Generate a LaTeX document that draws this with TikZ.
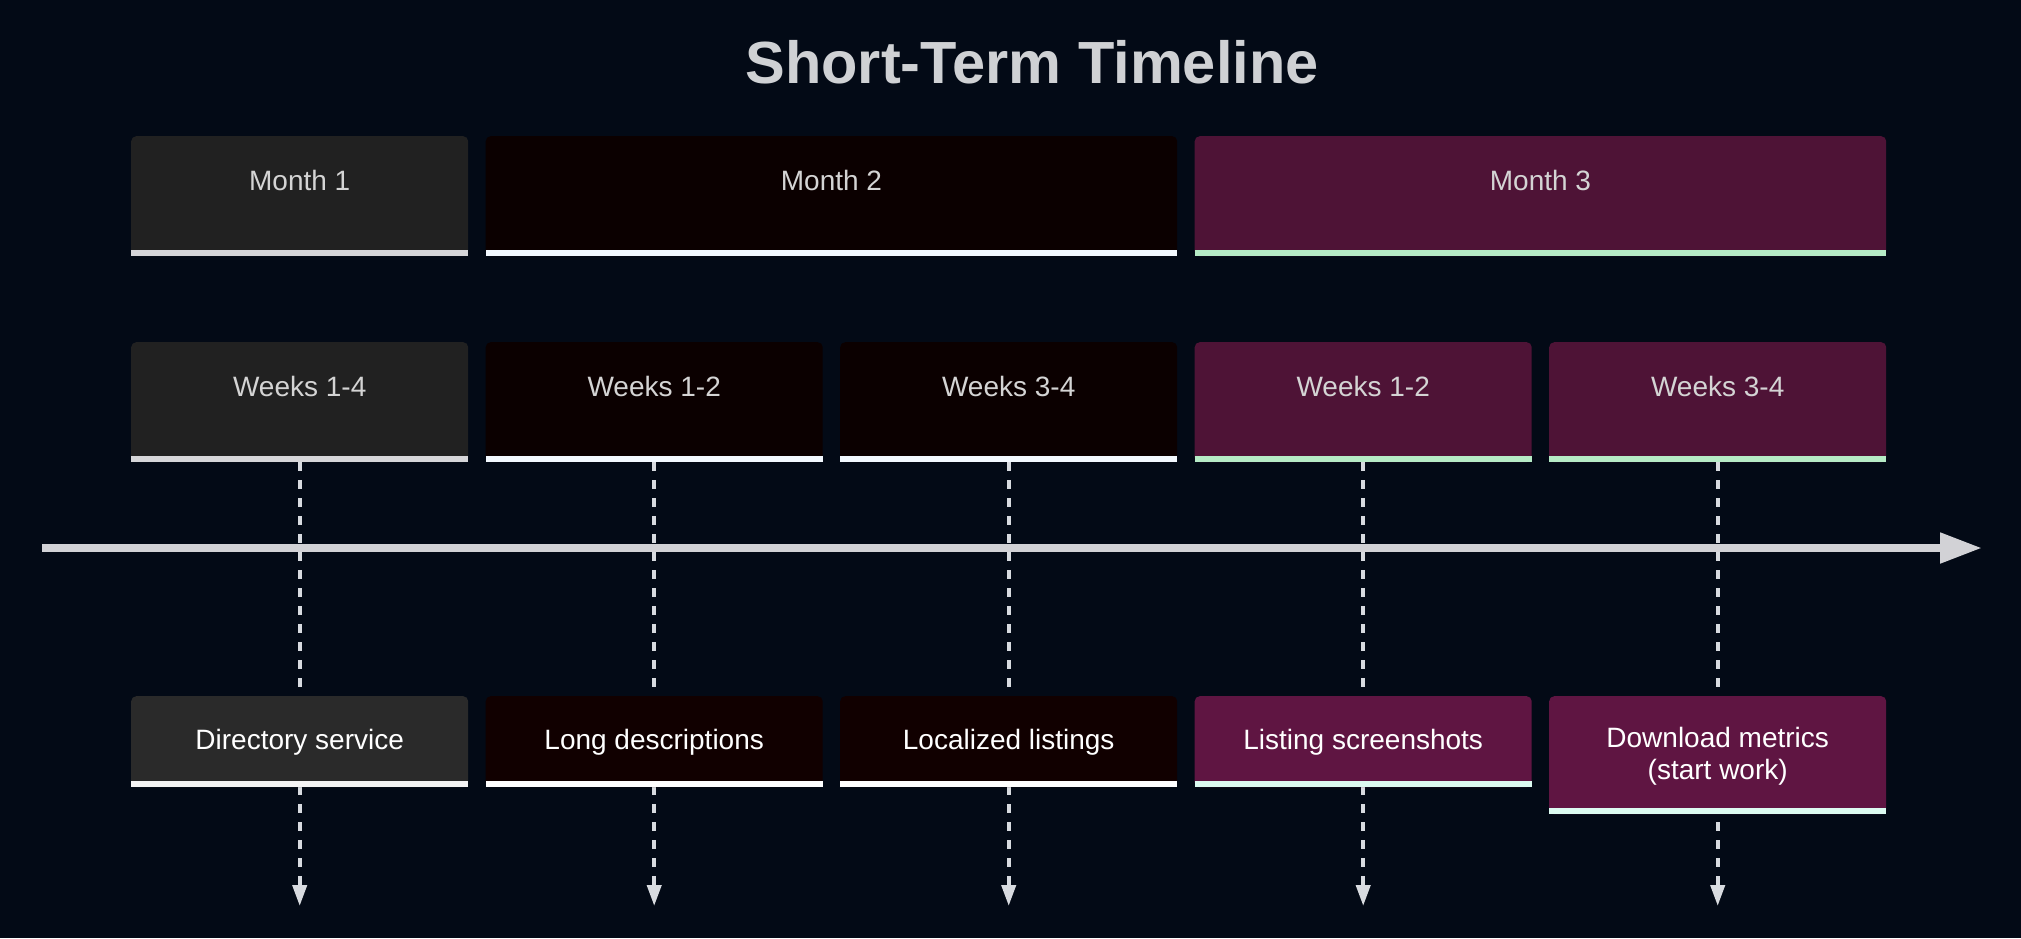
\documentclass[tikz,border=0pt]{standalone}
\usepackage{fontspec}
\setmainfont{Liberation Sans}
\usetikzlibrary{arrows.meta}

\definecolor{bg}{HTML}{030A16}
\definecolor{titlecol}{HTML}{CFD1D4}
\definecolor{hdrtext}{HTML}{D4D4D4}
\definecolor{boxA}{HTML}{212121}
\definecolor{boxB}{HTML}{0B0000}
\definecolor{boxC}{HTML}{4E1336}
\definecolor{lineA}{HTML}{D6D6D9}
\definecolor{lineB}{HTML}{F3F9FF}
\definecolor{lineC}{HTML}{B6EBC6}
\definecolor{evA}{HTML}{2A2A2A}
\definecolor{evB}{HTML}{110000}
\definecolor{evC}{HTML}{5F1542}
\definecolor{evlineA}{HTML}{F4F4F4}
\definecolor{evlineB}{HTML}{FFFFFF}
\definecolor{evlineC}{HTML}{DCFBF1}
\definecolor{tlcol}{HTML}{D2D2D6}
\definecolor{dashcol}{HTML}{D8DBE0}

\newcommand{\evtop}{\rule{0pt}{51pt}}
\newcommand{\evbot}{\rule[-35pt]{0pt}{0pt}}

\tikzset{
  hdr/.style={rectangle, rounded corners=5pt, anchor=north west, inner xsep=0pt, inner ysep=12pt,
    text height=42pt, text depth=54pt, font=\fontsize{28}{32}\selectfont, text=hdrtext},
  evbox/.style={rectangle, rounded corners=5pt, anchor=north, minimum width=337pt, minimum height=91pt,
    inner ysep=0pt, align=center, font=\fontsize{28}{32}\selectfont, text=white},
  timeline/.style={draw=tlcol, line width=8pt, -{Triangle[length=42pt,width=29pt]}},
  dashline/.style={draw=dashcol, line width=4pt, dash pattern=on 9pt off 9pt,
    -{Triangle[length=21pt,width=14pt]}},
}

\begin{document}
\begin{tikzpicture}[x=1pt, y=-1pt]
\fill[bg] (0,0) rectangle (2021,938);
\node[font=\bfseries\fontsize{59.5}{70}\selectfont, text=titlecol, anchor=base] (title) at (1032,83) {Short-Term Timeline};

% months
\node[hdr, fill=boxA, minimum width=337pt] (m1) at (131,136) {Month 1};
\node[hdr, fill=boxB, minimum width=691.5pt] (m2) at (485.5,136) {Month 2};
\node[hdr, fill=boxC, minimum width=691.5pt] (m3) at (1194.5,136) {Month 3};
\foreach \n/\c in {m1/A, m2/B, m3/C}
  \fill[line\c] (\n.south west) rectangle ([yshift=6pt]\n.south east);

% weeks
\foreach \i/\t/\c in {1/Weeks 1-4/A, 2/Weeks 1-2/B, 3/Weeks 3-4/B, 4/Weeks 1-2/C, 5/Weeks 3-4/C} {
  \node[hdr, fill=box\c, minimum width=337pt] (w\i) at ({131+(\i-1)*354.5},342) {\t};
  \fill[line\c] (w\i.south west) rectangle ([yshift=6pt]w\i.south east);
}

% timeline
\coordinate (t0) at (42,548);
\coordinate (t1) at (1982,548);
\draw[timeline] (t0) -- (t1);

\coordinate (bottom) at (0,906);
\coordinate (evtop) at (0,696);
\foreach \i in {1,...,5}
  \draw[dashline] (w\i.south) -- (w\i.south |- bottom);

% events
\foreach \i/\t/\c in {1/Directory service/A, 2/Long descriptions/B, 3/Localized listings/B,
    4/Listing screenshots/C, 5/{Download metrics\\(start work)}/C} {
  \node[evbox, fill=ev\c] (e\i) at (w\i.south |- evtop) {\evtop\t\evbot};
  \fill[evline\c] ([yshift=6pt]e\i.south west) rectangle (e\i.south east);
}
\end{tikzpicture}
\end{document}
